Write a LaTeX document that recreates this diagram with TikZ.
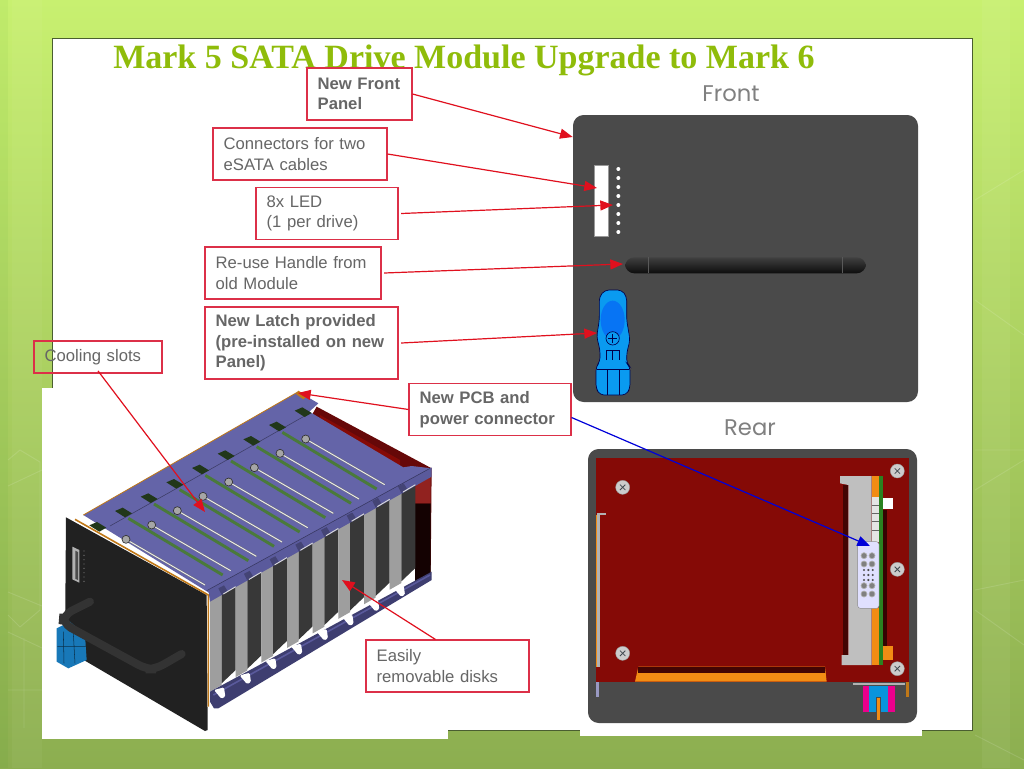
\documentclass[tikz,border=0pt]{standalone}
\usepackage{fontspec}
\usetikzlibrary{arrows.meta}
\setmainfont{Liberation Sans}
\newfontfamily\titlefont{Liberation Serif}
\newfontfamily\viewfont{Poppins}
\definecolor{bgtop}{HTML}{C8F070}
\definecolor{bgmid}{HTML}{AEDA58}
\definecolor{bgbot}{HTML}{8CAE50}
\definecolor{slideedge}{HTML}{4A5E30}
\definecolor{titlegreen}{HTML}{8FBC0A}
\definecolor{boxred}{HTML}{DC3048}
\definecolor{arrowred}{HTML}{E0101E}
\definecolor{labelgrey}{HTML}{666666}
\definecolor{panelgrey}{HTML}{4A4A4A}
\definecolor{platered}{HTML}{850A06}
\definecolor{rearred}{HTML}{660808}
\definecolor{deckblue}{HTML}{6464A8}
\definecolor{railblue}{HTML}{5A5A9C}
\definecolor{lowblue}{HTML}{3E3E70}
\definecolor{pcbgreen}{HTML}{4A7A3A}
\definecolor{latchblue}{HTML}{0A9AF0}
\definecolor{latchdark}{HTML}{1878B8}
\definecolor{orangepcb}{HTML}{F28C14}
\definecolor{edgeorange}{HTML}{C07818}
\tikzset{
	labelbox/.style={draw=boxred, line width=0.8pt, fill=white, text=labelgrey, align=left, inner xsep=8pt, inner ysep=0pt, minimum height=39pt, text width=#1, font=\fontsize{12.5}{15.4}\selectfont},
	boldbox/.style={labelbox=#1, font=\fontsize{12.5}{15.4}\selectfont\bfseries},
	redarrow/.style={draw=arrowred, line width=0.9pt, -{Triangle[length=9.5pt,width=7.5pt]}},
	viewlabel/.style={text=black!50, font=\viewfont\fontsize{17}{20}\selectfont, inner sep=0pt},
	screw/.style={fill=black!20, draw=black!40, line width=0.3pt},
	hexline/.style={white, opacity=0.12, line width=0.7pt}
}
\begin{document}
\begin{tikzpicture}[x=0.75pt, y=-0.75pt]
	\useasboundingbox (0, 0) rectangle (1024, 768);
	\shade[top color=bgtop, middle color=bgmid, bottom color=bgbot] (0, 0) rectangle (1024, 768);
	\fill[white, opacity=0.04] (12, 0) rectangle (42, 768);
	\fill[white, opacity=0.05] (982, 0) rectangle (1010, 768);
	\fill[green!50!black, opacity=0.04] (0, 0) rectangle (8, 768);
	\draw[hexline] (8, 460) -- (20, 450) -- (40, 462) -- (40, 610) -- (20, 627) -- (8, 615);
	\draw[hexline] (8, 486) -- (42, 470) (8, 592) -- (42, 606) (8, 690) -- (42, 690) (8, 632) -- (42, 648) (24, 638) -- (24, 728);
	\draw[hexline] (975, 200) -- (1024, 170) (975, 300) -- (1024, 335) (975, 450) -- (1024, 450) (975, 490) -- (1024, 460) (975, 590) -- (1024, 580) (975, 610) -- (1024, 645) (975, 735) -- (1024, 760);

	\draw[fill=white, draw=slideedge, line width=0.7pt] (52, 38) rectangle (972, 730);
	\fill[white] (42, 388) rectangle (448, 739);
	\fill[white] (580, 440) rectangle (922, 736);

	\draw (113, 60.5) node[anchor=west, inner sep=0pt, text=titlegreen, font=\titlefont\bfseries\fontsize{25.5}{30}\selectfont] (title) {Mark 5 SATA Drive Module Upgrade to Mark 6};
	\draw (731, 94) node[viewlabel] (front_view) {Front};
	\draw (750, 428) node[viewlabel] (rear_view) {Rear};

	% front panel
	\fill[panelgrey, rounded corners=8pt] (573, 115) rectangle (918, 402);
	\begin{scope}[shift={(560, 100)}, x=0.25pt, y=-0.25pt]
		\draw[fill=white, draw=black!40, line width=1pt] (103, 197) rectangle (145, 410);
		\foreach \i in {0,...,7}
			\fill[white] (175, 207+27*\i) circle[radius=6];
		\shade[rounded corners=7pt, top color=black!75, bottom color=black!95, middle color=black!85] (195, 472) rectangle (918, 520);
		\draw[black!65, line width=0.3pt] (265, 472) -- (265, 520) (848, 472) -- (848, 520);
		\draw[fill=latchblue, draw=black!70!blue, line width=0.5pt, rounded corners=3pt] (118, 590) -- (135, 570) -- (185, 570) -- (200, 590) -- (200, 660) -- (210, 720) -- (200, 760) -- (200, 790) -- (210, 800) -- (210, 865) -- (198, 885) -- (120, 885) -- (108, 865) -- (108, 800) -- (120, 785) -- (120, 750) -- (110, 710) -- (118, 660) -- cycle;
		\fill[latchblue!75!blue] (158, 660) ellipse[x radius=36, y radius=58];
		\draw[fill=latchblue, draw=black!70!blue, line width=0.5pt] (158, 715) circle[radius=20];
		\draw[black!70!blue, line width=0.5pt] (145, 715) -- (171, 715) (158, 702) -- (158, 728);
		\draw[black!70!blue, line width=0.4pt] (140, 780) -- (140, 750) -- (178, 750) -- (178, 780) (158, 750) -- (158, 780) (112, 808) -- (208, 808) (142, 808) -- (142, 885) (178, 808) -- (178, 885);
	\end{scope}

	% rear panel
	\fill[panelgrey, rounded corners=8pt] (588, 449) rectangle (917, 723);
	\begin{scope}[shift={(570, 440)}, x=0.25pt, y=-0.25pt]
		\fill[platered] (78, 55) rectangle (1018, 725);
		\fill[orangepcb] (195, 725) -- (205, 680) -- (765, 680) -- (770, 725) -- cycle;
		\fill[black!50!platered] (205, 680) rectangle (765, 700);
		\fill[black!30] (80, 218) rectangle (90, 680);
		\fill[black!30] (80, 218) rectangle (108, 226);
		\fill[orangepcb] (78, 226) rectangle (80, 680);
		\fill[black!60!platered] (940, 210) rectangle (952, 620);
		\fill[orangepcb] (905, 108) rectangle (940, 170);
		\fill[orangepcb] (905, 505) rectangle (940, 675);
		\fill[orangepcb] (940, 618) rectangle (968, 660);
		\fill[white] (940, 175) rectangle (968, 208);
		\fill[black!10] (905, 170) rectangle (927, 305);
		\foreach \k in {195,220,245,270}
			\draw[black!60, line width=0.3pt] (905, \k) -- (927, \k);
		\fill[black!25] (810, 108) -- (905, 108) -- (905, 675) -- (815, 675) -- (815, 645) -- (835, 645) -- (835, 135) -- (810, 130) -- cycle;
		\fill[black!50!platered] (820, 135) rectangle (835, 645);
		\fill[pcbgreen!70!green!80!black] (927, 108) rectangle (940, 675);
		\draw[fill=blue!12!white, draw=black!45, line width=0.3pt, rounded corners=2pt] (863, 305) rectangle (927, 505);
		\foreach \k in {347,372,437,462} {
			\draw[fill=black!50, draw=black!30, line width=0.5pt] (882, \k) circle[radius=9];
			\draw[fill=black!50, draw=black!30, line width=0.5pt] (906, \k) circle[radius=9];
		}
		\foreach \k in {390,405,420}
			\foreach \m in {882,895,908}
				\fill[black!70] (\m, \k) circle[radius=3.5];
		\foreach \a/\b in {158/142,158/640,982/93,982/388,982/686} {
			\draw[screw] (\a, \b) circle[radius=21];
			\draw[black!45!cyan!40!black, line width=0.6pt] (\a-8, \b-8) -- (\a+8, \b+8) (\a-8, \b+8) -- (\a+8, \b-8);
		}
		\fill[black!30] (850, 728) rectangle (1005, 735);
		\fill[magenta] (878, 738) rectangle (897, 815);
		\fill[magenta] (955, 738) rectangle (975, 815);
		\fill[cyan!80!blue] (897, 738) rectangle (955, 815);
		\fill[panelgrey] (918, 770) rectangle (932, 815);
		\fill[orangepcb] (920, 775) rectangle (930, 840);
		\fill[black!60!blue!40] (78, 725) rectangle (88, 770);
		\fill[edgeorange] (1008, 725) rectangle (1018, 770);
	\end{scope}

	% module
	\begin{scope}[shift={(40, 380)}, x=0.25pt, y=-0.25pt]
		\fill[rearred] (830, 80) -- (1175, 265) -- (1172, 580) -- (1125, 610) -- (1125, 300) -- (1080, 270) -- (810, 115) -- cycle;
		\fill[black!80!rearred] (1125, 370) -- (1172, 370) -- (1172, 580) -- (1125, 610) -- cycle;
		\fill[platered!90!white] (1125, 300) -- (1172, 285) -- (1172, 370) -- (1125, 370) -- cycle;
		\fill[platered] (840, 105) -- (1080, 240) -- (1080, 270) -- (840, 135) -- cycle;
		\fill[white] (820, 120) -- (852, 138) -- (852, 152) -- (820, 134) -- cycle;
		\foreach \i in {0,...,7} {
			\fill[black!38] (510+77*\i, 660-43.7*\i) -- (545+77*\i, 640-43.7*\i) -- (545+77*\i, 915-43.7*\i) -- (510+77*\i, 935-43.7*\i) -- cycle;
			\fill[black!78] (545+77*\i, 640-43.7*\i) -- (587+77*\i, 615-43.7*\i) -- (587+77*\i, 870-43.7*\i) -- (545+77*\i, 910-43.7*\i) -- cycle;
		}
		\fill[lowblue] (510, 935) -- (1175, 575) -- (1175, 600) -- (535, 985) -- (522, 985) -- (510, 965) -- cycle;
		\draw[railblue, line width=1.2pt] (520, 945) -- (1170, 585);
		\foreach \i in {0,...,7}
			\fill[white, rounded corners=1pt] (522+77*\i, 930-43.7*\i) -- (552+77*\i, 922-43.7*\i) -- (556+77*\i, 950-43.7*\i) -- (544+77*\i, 956-43.7*\i) -- cycle;
		\fill[deckblue] (130, 405) -- (775, 35) -- (835, 70) -- (808, 95) -- (1090, 262) -- (1115, 258) -- (1175, 265) -- (510, 640) -- cycle;
		\draw[black!40!deckblue, line width=0.4pt] (210, 438) -- (808, 100);
		\fill[railblue] (505, 630) -- (1175, 262) -- (1175, 290) -- (545, 645) -- (510, 665) -- cycle;
		\draw[black!40!railblue, line width=0.4pt] (500, 632) -- (1170, 265);
		\foreach \i in {0,...,7} {
			\fill[black!25!railblue] (535+77*\i, 625-43.7*\i) -- (552+77*\i, 616-43.7*\i) -- (562+77*\i, 632-43.7*\i) -- (545+77*\i, 645-43.7*\i) -- cycle;
			\draw[black!15, line width=0.7pt] (550+77*\i, 642-43.7*\i) -- (587+77*\i, 620-43.7*\i);
		}
		\draw[edgeorange, line width=0.6pt] (130, 405) -- (775, 35);
		\fill[edgeorange] (775, 32) -- (802, 48) -- (790, 58) -- (768, 42) -- cycle;
		\foreach \i in {-1,...,7}
			\fill[black!55!pcbgreen] (225+77*\i, 393-43*\i) -- (248+77*\i, 383-43*\i) -- (276+77*\i, 400-43*\i) -- (255+77*\i, 412-43*\i) -- cycle;
		\foreach \i in {0,...,6}
			\draw[pcbgreen, line width=2.2pt] (265+77*\i, 415-43*\i) -- (548+77*\i, 585-43*\i);
		\foreach \i in {0,...,7} {
			\draw[black!55, line width=1.3pt] (258+77*\i, 478-43*\i) -- (495+77*\i, 615-43*\i);
			\draw[black!8, line width=0.7pt] (258+77*\i, 478-43*\i) -- (495+77*\i, 615-43*\i);
			\draw[fill=black!35, draw=black!80, line width=0.5pt] (258+77*\i, 478-43*\i) circle[radius=12];
		}
		% panel of the module
		\fill[black!87] (78, 412) -- (500, 645) -- (503, 1050) -- (495, 1053) -- (75, 807) -- cycle;
		\draw[edgeorange, line width=1.2pt] (105, 418) -- (505, 645) -- (505, 980);
		\fill[black!30] (97, 500) -- (118, 510) -- (118, 608) -- (97, 598) -- cycle;
		\fill[black!70] (106, 512) -- (114, 516) -- (114, 600) -- (106, 596) -- cycle;
		\foreach \i in {0,...,7}
			\fill[black!55] (132, 513+13*\i) circle[radius=2];
		\fill[latchdark] (50, 745) -- (90, 725) -- (135, 765) -- (140, 840) -- (85, 865) -- (50, 845) -- cycle;
		\draw[black!60!latchdark, line width=0.4pt] (70, 755) -- (72, 850) (100, 760) -- (105, 850) (52, 800) -- (138, 800);
		\draw[black!80, line width=6pt, line cap=round, rounded corners=7pt] (150, 665) -- (70, 705) -- (68, 730) -- (320, 868) -- (345, 868) -- (425, 822);
	\end{scope}

	% labels
	\draw (359.5, 94) node[boldbox=62.75pt] (front) {New Front\\Panel};
	\draw (300, 154) node[labelbox=114.5pt] (esata) {Connectors for two\\eSATA cables};
	\draw (327, 213.5) node[labelbox=90.5pt] (led) {8x LED\\(1 per drive)};
	\draw (293, 273) node[labelbox=116pt] (handle) {Re-use Handle from\\old Module};
	\draw (301.5, 343) node[boldbox=128.75pt, minimum height=54pt] (latch) {New Latch provided\\(pre-installed on new\\Panel)};
	\draw (490, 409.5) node[boldbox=105.5pt] (pcb) {New PCB and\\power connector};
	\draw (98, 357) node[labelbox=80pt, fill=none, minimum height=24pt] (cooling) {Cooling slots};
	\draw (447.5, 666) node[labelbox=106.25pt] (disks) {Easily\\removable disks};

	\coordinate (front_t) at (572.7, 137);
	\coordinate (esata_t) at (597, 188);
	\coordinate (led_t) at (613, 205);
	\coordinate (handle_t) at (623, 264);
	\coordinate (latch_t) at (597, 333);
	\coordinate (pcb_t) at (298, 393);
	\coordinate (rear_t) at (870, 546);
	\coordinate (cooling_t) at (205, 512);
	\coordinate (disks_t) at (342, 580);

	\draw[redarrow] (front.east) -- (front_t);
	\draw[redarrow] (esata.east) -- (esata_t);
	\draw[redarrow] ([xshift=2pt]led.east) -- (led_t);
	\draw[redarrow] ([xshift=2pt]handle.east) -- (handle_t);
	\draw[redarrow] ([xshift=2pt]latch.east) -- (latch_t);
	\draw[redarrow] (pcb.west) -- (pcb_t);
	\draw[redarrow] ([yshift=2pt]cooling.south) -- (cooling_t);
	\draw[redarrow] ([xshift=-9pt]disks.north) -- (disks_t);
	\draw[redarrow, draw=blue!85!black] ([yshift=-6pt]pcb.east) -- (rear_t);
\end{tikzpicture}
\end{document}
